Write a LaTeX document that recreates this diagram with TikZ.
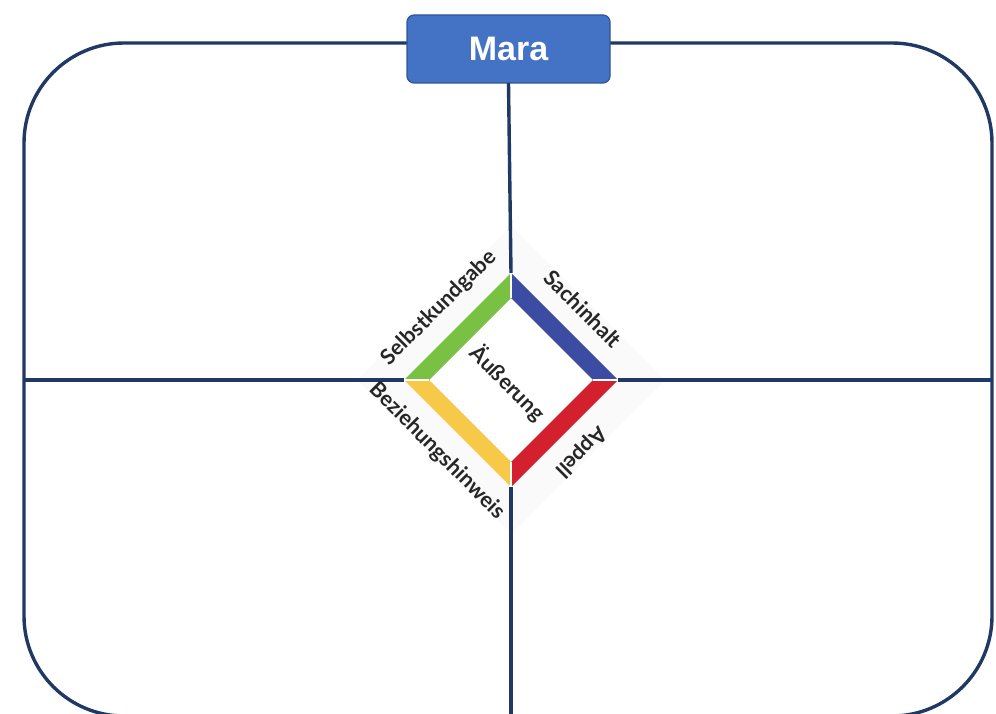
\documentclass[tikz,border=0pt]{standalone}
\usepackage{fontspec}
\setmainfont{Liberation Sans}
\newfontfamily\hand{Lato}
\definecolor{navy}{HTML}{1F3864}
\definecolor{titlefill}{HTML}{4472C4}
\definecolor{titledraw}{HTML}{2F5597}
\definecolor{bgreen}{HTML}{78C143}
\definecolor{bblue}{HTML}{3C4CA2}
\definecolor{bred}{HTML}{D3202E}
\definecolor{byellow}{HTML}{F7C948}
\tikzset{
  navyline/.style={draw=navy, line width=3.4pt},
  framebox/.style={draw=navy, line width=3.4pt, rounded corners=100pt, minimum width=968pt, minimum height=673pt, outer sep=0pt, inner sep=0pt},
  titlebox/.style={fill=titlefill, draw=titledraw, line width=1.2pt, rounded corners=7pt, minimum width=203pt, minimum height=68pt, outer sep=0pt, text=white, font=\bfseries\fontsize{34}{34}\selectfont},
  lbl/.style={font=\hand\bfseries\fontsize{21.5}{21.5}\selectfont, text=black!85, inner sep=0pt},
  sep/.style={draw=white, line width=1.6pt},
}
\begin{document}
\begin{tikzpicture}[x=1pt,y=-1pt]
\useasboundingbox (0,0) rectangle (996,714);
\clip (0,0) rectangle (996,714);
\fill[white] (0,0) rectangle (996,714);
% faint background square of the diamond picture
\fill[black!2] (511,226) -- (665,380) -- (511,534) -- (357,380) -- cycle;
% frame
\node[framebox] (frame) at (508,379.5) {};
% diamond coordinates
\coordinate (c) at (511,380);
\coordinate (ot) at (511,273);
\coordinate (or) at (618,380);
\coordinate (ob) at (511,487);
\coordinate (ol) at (404,380);
\coordinate (it) at (511,298);
\coordinate (ir) at (593,380);
\coordinate (ib) at (511,462);
\coordinate (il) at (429,380);
\fill[white] (it) -- (ir) -- (ib) -- (il) -- cycle;
% title
\node[titlebox] (mara) at (508.5,49) {Mara};
% connectors
\draw[navyline] (mara.south) -- (ot);
\draw[navyline] (frame.west |- ol) -- (ol);
\draw[navyline] (or) -- (frame.east |- or);
\draw[navyline] (ob) -- (ob |- frame.south);
% bands
\fill[bgreen] (ol) -- (ot) -- (it) -- (il) -- cycle;
\fill[bblue] (ot) -- (or) -- (ir) -- (it) -- cycle;
\fill[bred] (or) -- (ob) -- (ib) -- (ir) -- cycle;
\fill[byellow] (ob) -- (ol) -- (il) -- (ib) -- cycle;
\draw[sep] (it) -- (ot);
\draw[sep] (ir) -- (or);
\draw[sep] (ib) -- (ob);
\draw[sep] (il) -- (ol);
% labels
\node[lbl, rotate=45] (selbst) at (439,308) {Selbstkundgabe};
\node[lbl, rotate=-45] (sach) at (583,309) {Sachinhalt};
\node[lbl, rotate=225] (appell) at (581,452) {Appell};
\node[lbl, rotate=-45] (bez) at (437,451) {Beziehungshinweis};
\node[lbl, rotate=-45] (aeus) at (508,383) {Äußerung};
\end{tikzpicture}
\end{document}
